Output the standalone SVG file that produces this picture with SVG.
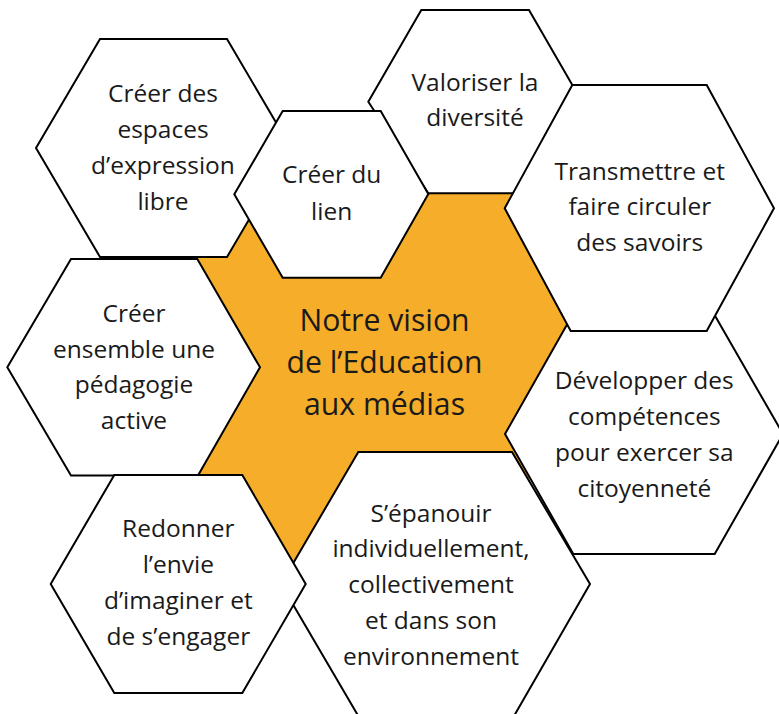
<svg xmlns="http://www.w3.org/2000/svg" width="779" height="714" viewBox="0 0 779 714">
<style>
.hex{fill:#ffffff;stroke:#000000;stroke-width:2;stroke-linejoin:miter}
.core{fill:#F5AD2A;stroke:none}
text{font-family:"Open Sans","Noto Sans","Liberation Sans",sans-serif;fill:#1a1a1a;text-anchor:middle}
.t{font-size:24.5px}
.c{font-size:30.2px}
</style>
<rect width="779" height="714" fill="#ffffff"/>
<g id="center">
<polygon class="core" points="215,252 300,150 420,150 560,150 600,325 600,340 540,470 500,500 300,600 240,500 185,470 185,262"/>
</g>
<g id="n-espaces">
<polygon class="hex" points="36,148 100,39 227,39 291,148 227,257 100,257"/>
<text class="t" x="163" y="102">Créer des</text>
<text class="t" x="163" y="138">espaces</text>
<text class="t" x="163" y="173.5">d’expression</text>
<text class="t" x="163" y="209.5">libre</text>
</g>
<g id="n-pedagogie">
<polygon class="hex" points="7.3,367.3 71,259 197.3,259 260,367.3 198,475.5 71,475.5"/>
<text class="t" x="134" y="321.7">Créer</text>
<text class="t" x="134" y="357.5">ensemble une</text>
<text class="t" x="134" y="393.3">pédagogie</text>
<text class="t" x="134" y="429">active</text>
</g>
<g id="n-valoriser">
<polygon class="hex" points="368.3,101.7 421.3,10 529,10 582,101.7 529,193.3 428.3,193.3"/>
<text class="t" x="475" y="90.7">Valoriser la</text>
<text class="t" x="475" y="126">diversité</text>
</g>
<g id="n-lien">
<polygon class="hex" points="234.3,194.3 282.7,111 380.7,111 428.3,194 380.7,277.7 282.7,277.7"/>
<text class="t" x="331.7" y="183.3">Créer du</text>
<text class="t" x="331.7" y="219.5">lien</text>
</g>
<g id="n-developper">
<polygon class="hex" points="505,434 573,314 714,314 783,434 714.7,554 573.3,554"/>
<text class="t" x="644.3" y="389">Développer des</text>
<text class="t" x="644.3" y="424.7">compétences</text>
<text class="t" x="644.3" y="460.7">pour exercer sa</text>
<text class="t" x="644.3" y="496.7">citoyenneté</text>
</g>
<g id="n-transmettre">
<polygon class="hex" points="504.7,208.3 572.3,85 706.7,85 774,208.3 706.7,331 570.7,331"/>
<text class="t" x="639.8" y="180">Transmettre et</text>
<text class="t" x="639.8" y="215">faire circuler</text>
<text class="t" x="639.8" y="250.7">des savoirs</text>
</g>
<g id="n-epanouir">
<polygon class="hex" points="281,584 358.3,452 512,452 590,584 514,716 358.3,716"/>
<text class="t" x="431" y="521.5">S’épanouir</text>
<text class="t" x="431" y="557">individuellement,</text>
<text class="t" x="431" y="593">collectivement</text>
<text class="t" x="431" y="629">et dans son</text>
<text class="t" x="431" y="664.5">environnement</text>
</g>
<g id="n-redonner">
<polygon class="hex" points="50.7,584 114.3,475 242.3,475 305.7,584 242.3,693 114.3,693"/>
<text class="t" x="178.3" y="537.3">Redonner</text>
<text class="t" x="178.3" y="573">l’envie</text>
<text class="t" x="178.3" y="609">d’imaginer et</text>
<text class="t" x="178.3" y="644.7">de s’engager</text>
</g>
<g id="center-label">
<text class="c" x="384.5" y="330.5">Notre vision</text>
<text class="c" x="384.5" y="373">de l’Education</text>
<text class="c" x="384.5" y="415">aux médias</text>
</g>
<g id="connectors"></g>
</svg>
